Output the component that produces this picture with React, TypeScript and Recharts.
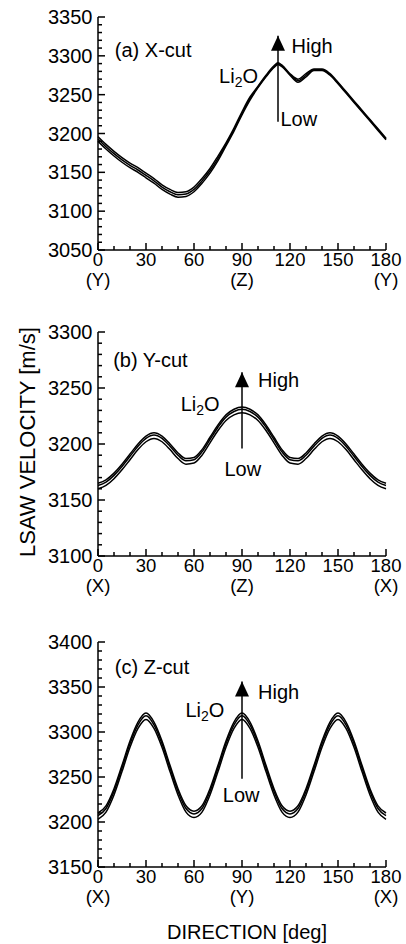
import { LineChart, Line, XAxis, YAxis, ReferenceLine, ReferenceDot } from 'recharts';

const FONT = '"Liberation Sans", Arial, Helvetica, sans-serif';

// rotation angle in the cut plane [deg]
const DIRECTION = [
  0, 5, 10, 15, 20, 25, 30, 35, 40, 45, 50, 55, 60, 65, 70, 75, 80, 85, 90,
  95, 100, 105, 110, 115, 120, 125, 130, 135, 140, 145, 150, 155, 160, 165, 170, 175, 180,
];
// X-cut has a sharp maximum near 112.5 deg, so it gets one extra point there
const XCUT_DIRECTION = [
  0, 5, 10, 15, 20, 25, 30, 35, 40, 45, 50, 55, 60, 65, 70, 75, 80, 85, 90,
  95, 100, 105, 110, 112.5, 115, 120, 125, 130, 135, 140, 145, 150, 155, 160, 165, 170, 175, 180,
];

// (a) X-cut, LSAW velocity [m/s] for low / mid / high Li2O content
const XCUT_LOW = [
  3190, 3180, 3171, 3163, 3156, 3150, 3143, 3136, 3128, 3122, 3118, 3119, 3125, 3136, 3149, 3165, 3184, 3203, 3224,
  3243, 3259, 3273, 3285, 3289, 3286, 3275, 3266, 3273, 3281, 3281, 3275, 3264, 3252, 3240, 3228, 3216, 3204, 3192,
];
const XCUT_MID = [
  3193, 3183, 3174, 3166, 3159, 3153, 3146, 3139, 3131, 3125, 3121, 3122, 3128, 3139, 3152, 3168, 3186, 3205, 3226,
  3245, 3260, 3274, 3286, 3290, 3287, 3276, 3268, 3275, 3282, 3282, 3276, 3265, 3253, 3241, 3229, 3217, 3205, 3193,
];
const XCUT_HIGH = [
  3196, 3186, 3177, 3169, 3162, 3156, 3149, 3142, 3134, 3128, 3124, 3125, 3131, 3142, 3155, 3171, 3188, 3207, 3228,
  3247, 3261, 3275, 3287, 3291, 3288, 3277, 3270, 3277, 3283, 3283, 3277, 3266, 3254, 3242, 3230, 3218, 3206, 3194,
];

// (b) Y-cut
const YCUT_LOW = [
  3160, 3163, 3169, 3177, 3186, 3195, 3202, 3205, 3202, 3195, 3187, 3182, 3183, 3190, 3201, 3212, 3221, 3226, 3228,
  3226, 3221, 3212, 3201, 3190, 3183, 3182, 3187, 3195, 3202, 3205, 3202, 3195, 3186, 3177, 3169, 3163, 3160,
];
const YCUT_MID = [
  3163, 3166, 3172, 3180, 3189, 3198, 3205, 3208, 3205, 3198, 3190, 3185, 3186, 3193, 3204, 3215, 3224, 3229, 3231,
  3229, 3224, 3215, 3204, 3193, 3186, 3185, 3190, 3198, 3205, 3208, 3205, 3198, 3189, 3180, 3172, 3166, 3163,
];
const YCUT_HIGH = [
  3165, 3168, 3174, 3182, 3191, 3200, 3207, 3210, 3207, 3200, 3192, 3187, 3188, 3195, 3206, 3217, 3226, 3231, 3233,
  3231, 3226, 3217, 3206, 3195, 3188, 3187, 3192, 3200, 3207, 3210, 3207, 3200, 3191, 3182, 3174, 3168, 3165,
];

// (c) Z-cut
const ZCUT_LOW = [
  3203, 3211, 3230, 3256, 3283, 3304, 3314, 3304, 3283, 3256, 3230, 3211, 3205, 3211, 3230, 3256, 3283, 3304, 3314,
  3304, 3283, 3256, 3230, 3211, 3205, 3211, 3230, 3256, 3283, 3304, 3314, 3304, 3283, 3256, 3230, 3211, 3203,
];
const ZCUT_MID = [
  3207, 3215, 3234, 3260, 3287, 3308, 3318, 3308, 3287, 3260, 3234, 3215, 3209, 3215, 3234, 3260, 3287, 3308, 3318,
  3308, 3287, 3260, 3234, 3215, 3209, 3215, 3234, 3260, 3287, 3308, 3318, 3308, 3287, 3260, 3234, 3215, 3207,
];
const ZCUT_HIGH = [
  3210, 3218, 3237, 3263, 3290, 3311, 3321, 3311, 3290, 3263, 3237, 3218, 3212, 3218, 3237, 3263, 3290, 3311, 3321,
  3311, 3290, 3263, 3237, 3218, 3212, 3218, 3237, 3263, 3290, 3311, 3321, 3311, 3290, 3263, 3237, 3218, 3210,
];

// axis ticks
const X_TICKS = [0, 10, 20, 30, 40, 50, 60, 70, 80, 90, 100, 110, 120, 130, 140, 150, 160, 170, 180];
const XCUT_Y_LABELS = [3050, 3100, 3150, 3200, 3250, 3300, 3350];
const YCUT_Y_LABELS = [3100, 3150, 3200, 3250, 3300];
const ZCUT_Y_LABELS = [3150, 3200, 3250, 3300, 3350, 3400];
const XCUT_AXIS_NAMES: Record<number, string> = { 0: '(Y)', 90: '(Z)', 180: '(Y)' };
const YCUT_AXIS_NAMES: Record<number, string> = { 0: '(X)', 90: '(Z)', 180: '(X)' };
const ZCUT_AXIS_NAMES: Record<number, string> = { 0: '(X)', 90: '(Y)', 180: '(X)' };

const minorTicks = (labels: number[]) => {
  const out: number[] = [];
  for (let v = labels[0]; v <= labels[labels.length - 1]; v += 10) out.push(v);
  return out;
};

const rows = (dirs: number[], low: number[], mid: number[], high: number[]) =>
  dirs.map((x, i) => ({ x, low: low[i], mid: mid[i], high: high[i] }));

const bottomTick = (names: Record<number, string>) => (p: any) => {
  const v = p.payload.value;
  const major = v % 30 === 0;
  return (
    <g>
      <line x1={p.x} x2={p.x} y1={p.y} y2={p.y - (major ? 7 : 4)} stroke="#000" strokeWidth={1.5} />
      {major && (
        <text x={p.x} y={p.y + 16} textAnchor="middle" fontSize={18.5} fontFamily={FONT} fill="#000">
          {v}
        </text>
      )}
      {names[v] && (
        <text x={p.x} y={p.y + 36} textAnchor="middle" fontSize={18.5} fontFamily={FONT} fill="#000">
          {names[v]}
        </text>
      )}
    </g>
  );
};

const topTick = (p: any) => {
  const major = p.payload.value % 30 === 0;
  return <line x1={p.x} x2={p.x} y1={p.y} y2={p.y + (major ? 7 : 4)} stroke="#000" strokeWidth={1.5} />;
};

const leftTick = (p: any) => {
  const v = p.payload.value;
  const major = v % 50 === 0;
  return (
    <g>
      <line x1={p.x} x2={p.x + (major ? 7 : 4)} y1={p.y} y2={p.y} stroke="#000" strokeWidth={1.5} />
      {major && (
        <text x={p.x - 5.5} y={p.y + 7} textAnchor="end" fontSize={20} fontFamily={FONT} fill="#000">
          {v}
        </text>
      )}
    </g>
  );
};

const rightTick = (p: any) => {
  const major = p.payload.value % 50 === 0;
  return <line x1={p.x} x2={p.x - (major ? 7 : 4)} y1={p.y} y2={p.y} stroke="#000" strokeWidth={1.5} />;
};

const label = (content: any, anchor: 'start' | 'end') => (p: any) => (
  <text x={p.cx} y={p.cy} textAnchor={anchor} dominantBaseline="central" fontSize={20} fontFamily={FONT} fill="#000">
    {content}
  </text>
);

const li2o = (
  <>
    Li
    <tspan dy={6} fontSize={14}>
      2
    </tspan>
    <tspan dy={-6}>O</tspan>
  </>
);

const arrowHead = (p: any) => (
  <path d={`M${p.cx},${p.cy} L${p.cx - 7},${p.cy + 15} L${p.cx + 7},${p.cy + 15} Z`} fill="#000" />
);

type PanelProps = {
  top: number;
  height: number;
  marginTop: number;
  data: any[];
  yLabels: number[];
  names: Record<number, string>;
  title: string;
  titleAt: [number, number];
  arrow: { x: number; bottom: number; tip: number };
  highAt: [number, number];
  lowAt: [number, number];
  li2oAt: [number, number];
};

function Panel(props: PanelProps) {
  const { yLabels, arrow } = props;
  const domain = [yLabels[0], yLabels[yLabels.length - 1]];
  const yTicks = minorTicks(yLabels);
  return (
    <div style={{ position: 'absolute', left: 0, top: props.top }}>
      <LineChart width={406} height={props.height} data={props.data} margin={{ top: props.marginTop, right: 20, bottom: 0, left: 0 }}>
        <XAxis dataKey="x" type="number" domain={[0, 180]} ticks={X_TICKS} interval={0} height={50} tickSize={0} tickMargin={0}
          tickLine={false} axisLine={{ stroke: '#000', strokeWidth: 1.5 }} tick={bottomTick(props.names)} />
        <XAxis xAxisId="t" orientation="top" dataKey="x" type="number" domain={[0, 180]} ticks={X_TICKS} interval={0} height={0}
          tickSize={0} tickMargin={0} tickLine={false} axisLine={{ stroke: '#000', strokeWidth: 1.5 }} tick={topTick} />
        <YAxis type="number" domain={domain} ticks={yTicks} interval={0} width={98} tickSize={0} tickMargin={0}
          allowDataOverflow tickLine={false} axisLine={{ stroke: '#000', strokeWidth: 1.5 }} tick={leftTick} />
        <YAxis yAxisId="r" orientation="right" type="number" domain={domain} ticks={yTicks} interval={0} width={0}
          tickSize={0} tickMargin={0} tickLine={false} axisLine={{ stroke: '#000', strokeWidth: 1.5 }} tick={rightTick} />
        <Line dataKey="low" type="monotone" stroke="#000" strokeWidth={1.5} dot={false} isAnimationActive={false} />
        <Line dataKey="mid" type="monotone" stroke="#000" strokeWidth={1.5} dot={false} isAnimationActive={false} />
        <Line dataKey="high" type="monotone" stroke="#000" strokeWidth={1.5} dot={false} isAnimationActive={false} />
        <ReferenceLine segment={[{ x: arrow.x, y: arrow.bottom }, { x: arrow.x, y: arrow.tip }]} stroke="#000" strokeWidth={1.5} />
        <ReferenceDot x={arrow.x} y={arrow.tip} r={0} shape={arrowHead} />
        <ReferenceDot x={props.titleAt[0]} y={props.titleAt[1]} r={0} shape={label(props.title, 'start')} />
        <ReferenceDot x={props.highAt[0]} y={props.highAt[1]} r={0} shape={label('High', 'start')} />
        <ReferenceDot x={props.lowAt[0]} y={props.lowAt[1]} r={0} shape={label('Low', 'start')} />
        <ReferenceDot x={props.li2oAt[0]} y={props.li2oAt[1]} r={0} shape={label(li2o, 'end')} />
      </LineChart>
    </div>
  );
}

export default function App() {
  return (
    <div style={{ position: 'absolute', left: 0, top: 0, width: 406, height: 944, background: '#fff', fontFamily: FONT }}>
      <Panel top={0} height={300} marginTop={17} data={rows(XCUT_DIRECTION, XCUT_LOW, XCUT_MID, XCUT_HIGH)} yLabels={XCUT_Y_LABELS}
        names={XCUT_AXIS_NAMES} title="(a) X-cut" titleAt={[10.5, 3307]} arrow={{ x: 112.5, bottom: 3215, tip: 3326 }}
        highAt={[121, 3313]} lowAt={[114, 3219]} li2oAt={[100, 3274]} />
      <Panel top={300} height={306} marginTop={32} data={rows(DIRECTION, YCUT_LOW, YCUT_MID, YCUT_HIGH)} yLabels={YCUT_Y_LABELS}
        names={YCUT_AXIS_NAMES} title="(b) Y-cut" titleAt={[9.5, 3275]} arrow={{ x: 90, bottom: 3196, tip: 3264 }}
        highAt={[100, 3257]} lowAt={[79, 3178]} li2oAt={[76, 3236]} />
      <Panel top={610} height={307} marginTop={32} data={rows(DIRECTION, ZCUT_LOW, ZCUT_MID, ZCUT_HIGH)} yLabels={ZCUT_Y_LABELS}
        names={ZCUT_AXIS_NAMES} title="(c) Z-cut" titleAt={[10.5, 3372]} arrow={{ x: 90, bottom: 3248, tip: 3356 }}
        highAt={[100, 3344]} lowAt={[78, 3230]} li2oAt={[79, 3324]} />
      <div style={{ position: 'absolute', left: 28, top: 442, transform: 'translate(-50%, -50%) rotate(-90deg)', whiteSpace: 'nowrap', fontSize: 22 }}>
        LSAW VELOCITY [m/s]
      </div>
      <div style={{ position: 'absolute', left: 247, top: 932, transform: 'translate(-50%, -50%)', whiteSpace: 'nowrap', fontSize: 20 }}>
        DIRECTION [deg]
      </div>
    </div>
  );
}
